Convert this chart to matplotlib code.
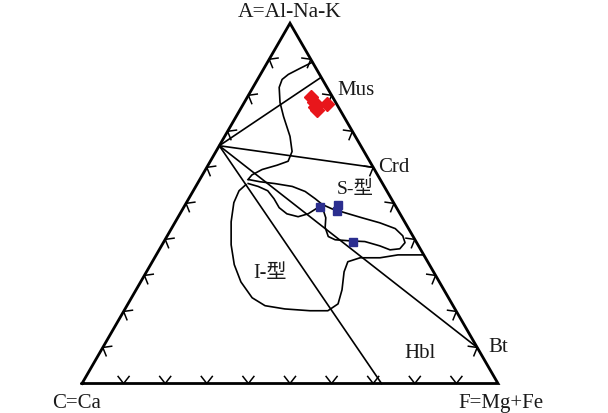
import matplotlib.pyplot as plt
import numpy as np

# ACF diagram: A = Al-Na-K, C = Ca, F = Mg+Fe (mole %), stored as (A, F); C = 100 - A - F
an_point = (66.0, 0.0)
mineral_names = ['Mus', 'Crd', 'Bt']
mineral_A = [85.0, 60.0, 10.0]
mineral_F = [15.0, 40.0, 90.0]
hbl_base = (0.0, 72.0)

# field boundaries (A, F)
upper_A = [89.2, 87.5, 85.8, 84.4, 82.2, 78.0, 74.1, 68.6, 64.4, 61.7, 60.6, 59.4, 57.9, 56.6]
upper_F = [10.8, 8.7, 6.7, 5.9, 6.3, 8.6, 11.4, 15.7, 18.3, 18.7, 16.6, 13.6, 11.9, 11.6]

s_field_A = [56.6, 56.0, 55.5, 54.7, 53.3, 51.3, 49.7, 48.5, 47.4, 46.0, 44.6, 43.0, 41.0, 39.1,
             37.4, 37.1, 38.2, 39.4, 39.6, 39.9, 40.8, 43.3, 46.0, 48.3, 48.5, 47.1, 46.3, 47.1,
             48.8, 51.3, 53.5, 54.7, 55.5]
s_field_F = [11.8, 14.8, 18.6, 23.2, 27.0, 30.4, 32.9, 35.8, 39.5, 44.3, 49.3, 53.8, 56.6, 58.1,
             57.7, 55.5, 52.5, 48.3, 44.6, 40.9, 38.8, 36.8, 35.6, 33.8, 32.0, 30.8, 28.8, 25.7,
             23.0, 20.5, 17.9, 15.0, 12.2]

i_field_A = [55.2, 53.5, 50.2, 44.9, 38.5, 33.0, 28.2, 23.8, 21.6, 20.7, 20.2, 20.2, 22.1, 26.0,
             31.0, 33.8, 34.9, 34.9, 35.7, 35.7]
i_field_F = [11.8, 11.0, 11.4, 13.4, 16.6, 20.1, 24.1, 29.0, 33.2, 38.4, 44.7, 49.0, 50.5, 49.5,
             47.5, 47.0, 49.4, 54.2, 58.1, 64.3]

# samples
s_type_A = [49.0, 49.6, 48.0, 39.2]
s_type_F = [32.7, 36.8, 37.2, 45.5]
mus_A = [79.6, 78.1, 76.8, 75.9, 77.5]
mus_F = [15.3, 16.6, 17.6, 18.5, 20.2]


def to_xy(a, f):
    a = np.asarray(a, dtype=float)
    f = np.asarray(f, dtype=float)
    return f + a / 2.0, a * np.sqrt(3) / 2.0


plt.rcParams['font.family'] = ['Liberation Serif', 'Noto Sans CJK SC']

fig = plt.figure(figsize=(6.08, 4.13), dpi=100)
ax = fig.add_axes([0, 0, 1, 1])
ax.set_xlim(-19.71, 126.44)
ax.set_ylim(-7.09, 92.19)
ax.axis('off')

# triangle frame
tx, ty = to_xy([0, 100, 0, 0], [0, 0, 100, 0])
ax.plot(tx, ty, color='black', lw=2.0, solid_joinstyle='miter')

# chevron ticks on each side, pointing outward
arm = 2.15
half = np.radians(38)
corners = [to_xy(0, 0), to_xy(0, 100), to_xy(100, 0)]  # C, F, A
for (p0, p1) in [(corners[0], corners[1]), (corners[1], corners[2]), (corners[2], corners[0])]:
    p0 = np.array(p0)
    p1 = np.array(p1)
    d = (p1 - p0) / np.linalg.norm(p1 - p0)
    inward = np.array([-d[1], d[0]])
    ang = np.arctan2(inward[1], inward[0])
    for t in np.arange(0.1, 0.95, 0.1):
        v = p0 + t * (p1 - p0)
        e1 = v + arm * np.array([np.cos(ang + half), np.sin(ang + half)])
        e2 = v + arm * np.array([np.cos(ang - half), np.sin(ang - half)])
        ax.plot([e1[0], v[0], e2[0]], [e1[1], v[1], e2[1]], color='black', lw=1.1)

# tie lines from An point
ax0, ay0 = to_xy(*an_point)
for a, f in zip(mineral_A, mineral_F):
    x1, y1 = to_xy(a, f)
    ax.plot([ax0, x1], [ay0, y1], color='black', lw=1.2)
x1, y1 = to_xy(*hbl_base)
ax.plot([ax0, x1], [ay0, y1], color='black', lw=1.2)

# field boundaries
for a, f in [(upper_A, upper_F), (s_field_A, s_field_F), (i_field_A, i_field_F)]:
    x, y = to_xy(a, f)
    ax.plot(x, y, color='black', lw=1.2)

x, y = to_xy(mus_A, mus_F)
ax.plot(x, y, 'D', color='#e8161b', ms=6.8, mec='#e8161b', zorder=5)
x, y = to_xy(s_type_A, s_type_F)
ax.plot(x, y, 's', color='#2b2e8f', ms=6, mec='#2b2e8f', zorder=5)

# labels
tc = '#1a1a1a'
ax.text(50, 89.1, 'A=Al-Na-K', ha='center', va='center', fontsize=15.5, color=tc)
ax.text(-7.2, -6.0, 'C=Ca', ha='left', va='baseline', fontsize=15, color=tc)
ax.text(90.4, -6.0, 'F=Mg+Fe', ha='left', va='baseline', fontsize=15, color=tc)
for name, a, f, dx, dy in zip(mineral_names, mineral_A, mineral_F,
                              [3.8, 1.3, 2.6], [-3.1, -0.1, 0.1]):
    x, y = to_xy(a, f)
    ax.text(x + dx, y + dy, name, ha='left', va='center', fontsize=15, color=tc)
ax.text(61.3, 46.6, 'S-型', ha='left', va='center', fontsize=14, color=tc)
ax.text(41.1, 26.5, 'I-型', ha='left', va='center', fontsize=14.5, color=tc)
ax.text(77.6, 7.3, 'Hbl', ha='left', va='center', fontsize=15, color=tc)

fig.savefig('out.png', dpi=100)
